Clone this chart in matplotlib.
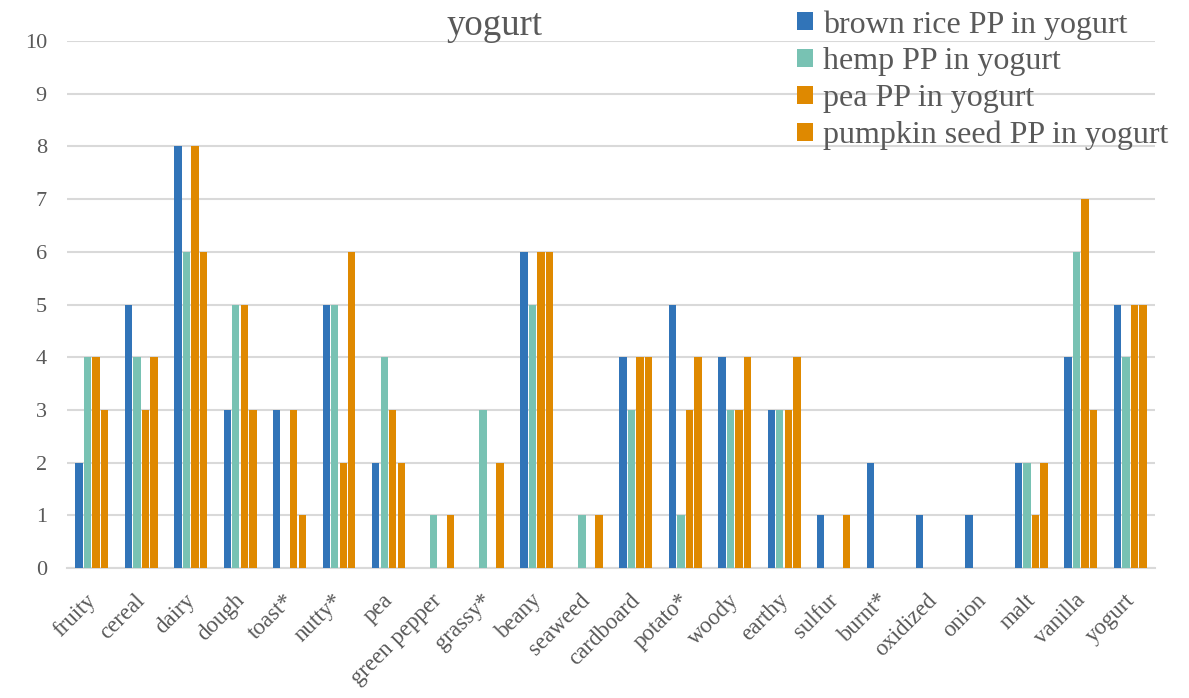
import matplotlib
matplotlib.use("Agg")
import matplotlib.pyplot as plt
import matplotlib.transforms as mtransforms
import numpy as np

categories = ["fruity", "cereal", "dairy", "dough", "toast*", "nutty*", "pea",
              "green pepper", "grassy*", "beany", "seaweed", "cardboard", "potato*",
              "woody", "earthy", "sulfur", "burnt*", "oxidized", "onion", "malt",
              "vanilla", "yogurt"]

brown_rice = [2, 5, 8, 3, 3, 5, 2, 0, 0, 6, 0, 4, 5, 4, 3, 1, 2, 1, 1, 2, 4, 5]
hemp       = [4, 4, 6, 5, 0, 5, 4, 1, 3, 5, 1, 3, 1, 3, 3, 0, 0, 0, 0, 2, 6, 4]
pea        = [4, 3, 8, 5, 3, 2, 3, 0, 0, 6, 0, 4, 3, 3, 3, 0, 0, 0, 0, 1, 7, 5]
pumpkin    = [3, 4, 6, 3, 1, 6, 2, 1, 2, 6, 1, 4, 4, 4, 4, 1, 0, 0, 0, 2, 3, 5]

series_names = ["brown rice PP in yogurt", "hemp PP in yogurt",
                "pea PP in yogurt", "pumpkin seed PP in yogurt"]
series_values = [brown_rice, hemp, pea, pumpkin]
colors = ["#3174B8", "#78C2B3", "#DF8900", "#DF8900"]

plt.rcParams["font.family"] = ["Liberation Serif", "DejaVu Serif"]
text_color = "#595959"

fig = plt.figure(figsize=(11.89, 6.98), dpi=100)
ax = fig.add_axes([67 / 1189, (698 - 568) / 698, (1155 - 67) / 1189, (568 - 41) / 698])

x = np.arange(len(categories))
bar_w = 0.172
offsets = (np.arange(4) - 1.5) * bar_w
for vals, name, col, off in zip(series_values, series_names, colors, offsets):
    ax.bar(x + off, vals, width=bar_w * 0.86, color=col, label=name, zorder=3)

ax.set_xlim(-0.5, len(categories) - 0.5)
ax.set_ylim(0, 10)
ax.set_yticks(range(0, 11))
ax.yaxis.grid(True, color="#d9d9d9", linewidth=1.5, zorder=0)
ax.set_axisbelow(True)
for s in ["top", "right", "left"]:
    ax.spines[s].set_visible(False)
ax.spines["bottom"].set_color("#d9d9d9")
ax.spines["bottom"].set_linewidth(1.5)

ax.tick_params(axis="both", length=0, colors=text_color, labelsize=16)
ax.tick_params(axis="y", pad=14.5)
ax.set_xticks(x)
ax.set_xticklabels(categories, rotation=45, ha="right", va="center",
                   rotation_mode="anchor", fontsize=16.5)
ax.tick_params(axis="x", pad=21)
shift = mtransforms.ScaledTranslation(1 / 100, 0, fig.dpi_scale_trans)
for lbl in ax.get_xticklabels():
    lbl.set_transform(lbl.get_transform() + shift)

fig.text(495 / 1189, 1 - 35 / 698, "yogurt", ha="center", va="baseline",
         fontsize=26.5, color=text_color)

leg = ax.legend(loc="upper left", bbox_to_anchor=(794 / 1189, 1 - 7 / 698),
                bbox_transform=fig.transFigure,
                frameon=False, fontsize=23, handlelength=0.5, handleheight=0.5,
                handletextpad=0.3, labelspacing=0.24, borderaxespad=0.0, borderpad=0.1)
for t in leg.get_texts():
    t.set_color(text_color)

fig.savefig("out.png", dpi=100)
